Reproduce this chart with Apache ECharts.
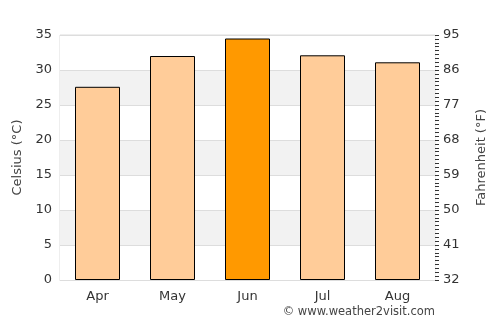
<!DOCTYPE html>
<html>
<head>
<meta charset="utf-8">
<script src="https://cdn.jsdelivr.net/npm/echarts@6/dist/echarts.min.js"></script>
<style>
  html, body { margin: 0; padding: 0; background: #fff; }
  #chart { width: 500px; height: 325px; }
</style>
</head>
<body>
<div id="chart"></div>
<script>
// 月份与平均最高气温（摄氏度）
var months = ['Apr', 'May', 'Jun', 'Jul', 'Aug'];
var celsius = [27.6, 32.0, 34.5, 32.1, 31.1];
var highlightMonth = 'Jun';

var myChart = echarts.init(document.getElementById('chart'));
var font = 'DejaVu Sans';

myChart.setOption({
    animation: false,
    textStyle: { fontFamily: font },
    grid: {
        left: 60, right: 65, top: 35, bottom: 45,
        outerBoundsMode: 'none',
        containLabel: false,
        show: true, borderColor: '#ddd', borderWidth: 1
    },
    xAxis: {
        type: 'category',
        data: months,
        axisLine: { lineStyle: { color: '#ddd' } },
        axisTick: { show: false },
        axisLabel: { color: '#333', fontSize: 13, margin: 10 }
    },
    yAxis: [
        {
            type: 'value',
            min: 0, max: 35, interval: 5,
            name: 'Celsius (°C)',
            nameLocation: 'middle',
            nameGap: 35,
            nameTextStyle: { color: '#444', fontSize: 13 },
            axisLine: { show: false },
            axisTick: { show: false },
            axisLabel: { color: '#333', fontSize: 13, margin: 8 },
            splitLine: { lineStyle: { color: '#ddd' } },
            splitArea: { show: true, areaStyle: { color: ['#ffffff', '#f2f2f2'] } }
        },
        {
            type: 'value',
            position: 'right',
            min: 32, max: 95, interval: 9,
            name: 'Fahrenheit (°F)',
            nameLocation: 'middle',
            nameGap: 40,
            nameRotate: 90,
            nameTextStyle: { color: '#444', fontSize: 13 },
            axisLine: { show: false },
            axisTick: { show: true, length: 4, lineStyle: { color: '#333' } },
            minorTick: { show: true, splitNumber: 9, length: 4, lineStyle: { color: '#333' } },
            axisLabel: { color: '#333', fontSize: 13, margin: 8 },
            splitLine: { show: false }
        }
    ],
    series: [{
        type: 'bar',
        barWidth: '60%',
        data: celsius.map(function (v, i) {
            return {
                value: v,
                itemStyle: { color: months[i] === highlightMonth ? '#ff9900' : '#ffcc99' }
            };
        }),
        itemStyle: { borderColor: '#000', borderWidth: 1 }
    }],
    graphic: [{
        type: 'text',
        right: 65, top: 306,
        style: { text: '© www.weather2visit.com', fill: '#444', fontSize: 11.5, fontFamily: font }
    }]
});
</script>
</body>
</html>
